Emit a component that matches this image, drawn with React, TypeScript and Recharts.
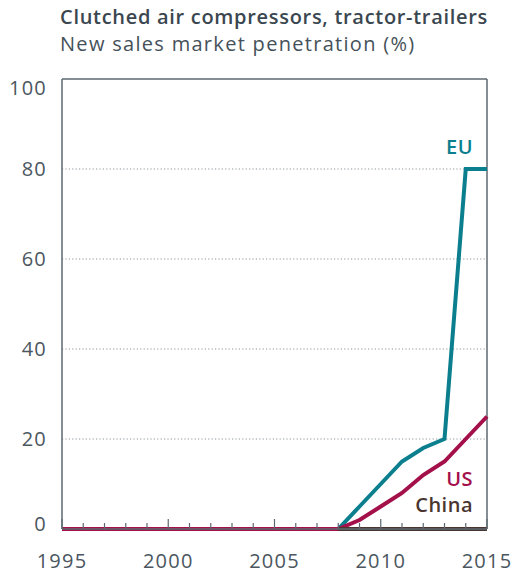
import React from "react";
import {
  LineChart,
  Line,
  XAxis,
  YAxis,
  ReferenceLine,
} from "recharts";

const years = [
  1995, 1996, 1997, 1998, 1999, 2000, 2001, 2002, 2003, 2004, 2005, 2006,
  2007, 2008, 2009, 2010, 2011, 2012, 2013, 2014, 2015,
];
const euValues = [0, 0, 0, 0, 0, 0, 0, 0, 0, 0, 0, 0, 0, 0, 5, 10, 15, 18, 20, 80, 80];
const usValues = [0, 0, 0, 0, 0, 0, 0, 0, 0, 0, 0, 0, 0, 0, 2, 5, 8, 12, 15, 20, 25];
const chinaValues = [null, null, null, null, null, null, null, null, null, null, null, null, null, 0, 0, 0, 0, 0, 0, 0, 0];
const xLabels = [1995, 2000, 2005, 2010, 2015];
const yTicks = [0, 20, 40, 60, 80, 100];
const gridValues = [20, 40, 60, 80];

const data = years.map((year, i) => ({
  year,
  eu: euValues[i],
  us: usValues[i],
  china: chinaValues[i],
}));

const FONT = "'Open Sans', sans-serif";
const GREY = "#4b5660";
const AXIS = "#5d6870";
const EU = "#0b7f8e";
const US = "#a3104a";
const CHINA = "#4b3530";

const YearTick = (props: any) => {
  const { x, y, payload } = props;
  const major = xLabels.includes(payload.value);
  return (
    <g>
      <line x1={x} x2={x} y1={y} y2={y - (major ? 10 : 6)} stroke={AXIS} strokeWidth={1.2} />
      {major && (
        <text x={x} y={y + 39} textAnchor="middle" fontSize={20} letterSpacing={1.2} fill={GREY} fontFamily={FONT}>
          {payload.value}
        </text>
      )}
    </g>
  );
};

const ValueTick = (props: any) => {
  const { x, y, payload } = props;
  // end labels sit inside the frame a little
  const shift = payload.value === 0 ? -5 : payload.value === 100 ? 9 : 0;
  return (
    <text x={x} y={y + shift} dy={7} textAnchor="end" fontSize={20} letterSpacing={1.2} fill={GREY} fontFamily={FONT}>
      {payload.value}
    </text>
  );
};

export default function App() {
  return (
    <div style={{ position: "absolute", left: 0, top: 0, width: 514, height: 573, background: "#fff", fontFamily: FONT }}>
      <div style={{ position: "absolute", left: 60, top: 3, fontSize: 20, fontWeight: 600, letterSpacing: 0.7, color: "#3b4750", whiteSpace: "nowrap" }}>
        Clutched air compressors, tractor-trailers
      </div>
      <div style={{ position: "absolute", left: 60, top: 30, fontSize: 20, letterSpacing: 1.3, color: "#45515a", whiteSpace: "nowrap" }}>
        New sales market penetration (%)
      </div>
      <LineChart
        width={514}
        height={573}
        data={data}
        margin={{ top: 79, right: 27, bottom: 0, left: 0 }}
      >
        <XAxis
          dataKey="year"
          type="number"
          domain={[1995, 2015]}
          ticks={years}
          interval={0}
          tickLine={false}
          tickSize={0}
          tickMargin={0}
          axisLine={{ stroke: AXIS, strokeWidth: 1.5 }}
          tick={<YearTick />}
          height={44}
        />
        <YAxis
          type="number"
          domain={[0, 100]}
          ticks={yTicks}
          width={62}
          tickLine={false}
          tickSize={0}
          tickMargin={15}
          axisLine={{ stroke: AXIS, strokeWidth: 1.5 }}
          tick={<ValueTick />}
        />
        {gridValues.map((v) => (
          <ReferenceLine key={v} y={v} stroke="#b4b9bd" strokeDasharray="1.2 2.2" strokeWidth={1.3} />
        ))}
        <ReferenceLine y={100} stroke={AXIS} strokeWidth={1.5} />
        <ReferenceLine x={2015} stroke={AXIS} strokeWidth={1.5} />
        <Line dataKey="eu" stroke={EU} strokeWidth={4} dot={false} isAnimationActive={false} strokeLinejoin="miter" />
        <Line dataKey="us" stroke={US} strokeWidth={4} dot={false} isAnimationActive={false} strokeLinejoin="miter" />
        <Line dataKey="china" stroke={CHINA} strokeWidth={4} dot={false} isAnimationActive={false} strokeLinejoin="miter" />
      </LineChart>
      <div style={{ position: "absolute", right: 41, top: 133, fontSize: 20, fontWeight: 600, letterSpacing: 0.5, color: EU }}>EU</div>
      <div style={{ position: "absolute", right: 41, top: 465, fontSize: 20, fontWeight: 600, letterSpacing: 0.5, color: US }}>US</div>
      <div style={{ position: "absolute", right: 41, top: 491, fontSize: 20, fontWeight: 600, letterSpacing: 0.5, color: CHINA }}>China</div>
    </div>
  );
}
